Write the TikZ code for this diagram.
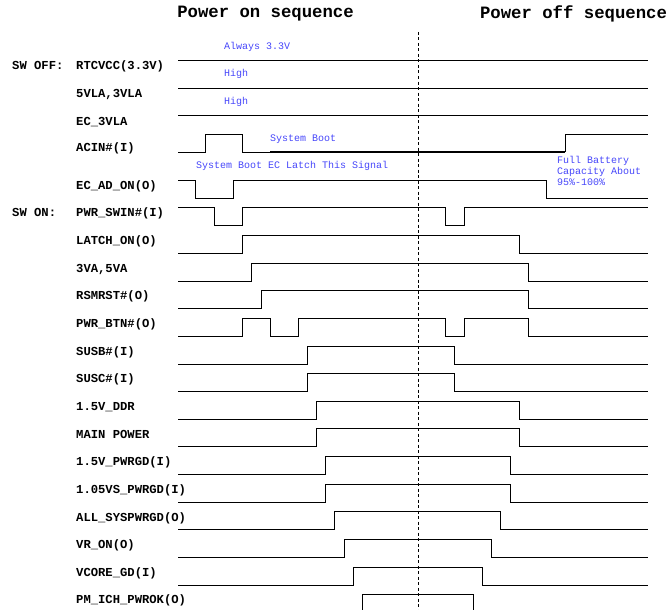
\documentclass[tikz,border=0pt]{standalone}
\usepackage{fontspec}
\setmonofont{Liberation Mono}
\usepackage{tikz}

\definecolor{notecolor}{RGB}{70,70,250}

\begin{document}
\begin{tikzpicture}[x=1pt, y=-1pt,
    signame/.style={anchor=west, inner sep=0pt, text height=7pt, text depth=0pt,
        font=\ttfamily\bfseries\fontsize{12.2}{14}\selectfont},
    title/.style={inner sep=0pt, font=\ttfamily\bfseries\fontsize{17.3}{20}\selectfont},
    note/.style={anchor=west, inner sep=0pt, text=notecolor,
        font=\ttfamily\fontsize{10}{10.7}\selectfont},
    wave/.style={line width=0.8pt, line join=miter}]
\useasboundingbox (0,0) rectangle (669,610);
\clip (0,0) rectangle (669,610);

% Headings of the two halves of the diagram
\node [title] (title on) at (265.5,14) {Power on sequence};
\node [title] (title off) at (573.5,14) {Power off sequence};

% Signal names, first the ones that are there with the switch off
\node [signame] (sw off) at (12,66) {SW OFF:};
\foreach \y/\name [count=\k] in {66/RTCVCC(3.3V), 94/{5VLA,3VLA}, 122/EC\_3VLA, 148/ACIN\#(I)}
    \node [signame] (top\k) at (76,\y) {\name};

% and then the ones of the switch on part, one row every 27.65
\node [signame] (sw on) at (12,213) {SW ON:};
\foreach \name [count=\k from 0] in {EC\_AD\_ON(O), PWR\_SWIN\#(I), LATCH\_ON(O),
    {3VA,5VA}, RSMRST\#(O), PWR\_BTN\#(O), SUSB\#(I), SUSC\#(I), 1.5V\_DDR,
    MAIN POWER, 1.5V\_PWRGD(I), 1.05VS\_PWRGD(I), ALL\_SYSPWRGD(O), VR\_ON(O),
    VCORE\_GD(I), PM\_ICH\_PWROK(O)}
    \node [signame] (sig\k) at (76,185.7+27.65*\k) {\name};

% Border between power on and power off
\draw [dash pattern=on 3pt off 2.5pt, line width=0.7pt] (418,32) -- (418,610);

% Supplies that are always high
\foreach \y in {60, 88, 115}
    \draw [wave] (178,\y) -- (648,\y);

% ACIN, with the boot period drawn heavier
\draw [wave] (178,152) -- (205,152) -- (205,134) -- (242,134) -- (242,152) -- (270,152);
\draw [wave, line width=2pt] (270,152) -- (565,152);
\draw [wave] (565,152) -- (565,134) -- (648,134);

% Signals with more than one pulse
\draw [wave] (178,180) -- (195,180) -- (195,198) -- (233,198) -- (233,180)
    -- (546,180) -- (546,198) -- (648,198);
\draw [wave] (178,207.65) -- (214,207.65) -- (214,225.65) -- (242,225.65) -- (242,207.65)
    -- (445,207.65) -- (445,225.65) -- (464,225.65) -- (464,207.65) -- (648,207.65);
\draw [wave] (178,336.25) -- (242,336.25) -- (242,318.25) -- (270,318.25) -- (270,336.25)
    -- (298,336.25) -- (298,318.25) -- (445,318.25) -- (445,336.25) -- (464,336.25)
    -- (464,318.25) -- (528,318.25) -- (528,336.25) -- (648,336.25);

% Signals that go high once and low once: row/rising edge/falling edge
\foreach \k/\up/\down in {2/242/519, 3/251/528, 4/261/528, 6/307/454, 7/307/454,
    8/316/519, 9/316/519, 10/325/510, 11/325/510, 12/334.5/500.5, 13/344/491,
    14/353/482, 15/362/473} {
    \pgfmathsetmacro\lo{198+27.65*\k}
    \draw [wave] (178,\lo) -- (\up,\lo) -- (\up,\lo-18) -- (\down,\lo-18)
        -- (\down,\lo) -- (648,\lo);
}

% Remarks in blue
\node [note] (always) at (224,47) {Always 3.3V};
\node [note] (high a) at (224,74) {High};
\node [note] (high b) at (224,102) {High};
\node [note] (boot) at (270,139) {System Boot};
\node [note] (latch) at (196,166) {System Boot EC Latch This Signal};
\node [note, align=left] (battery) at (557,171) {Full Battery\\Capacity About\\95\%-100\%};
\end{tikzpicture}
\end{document}
